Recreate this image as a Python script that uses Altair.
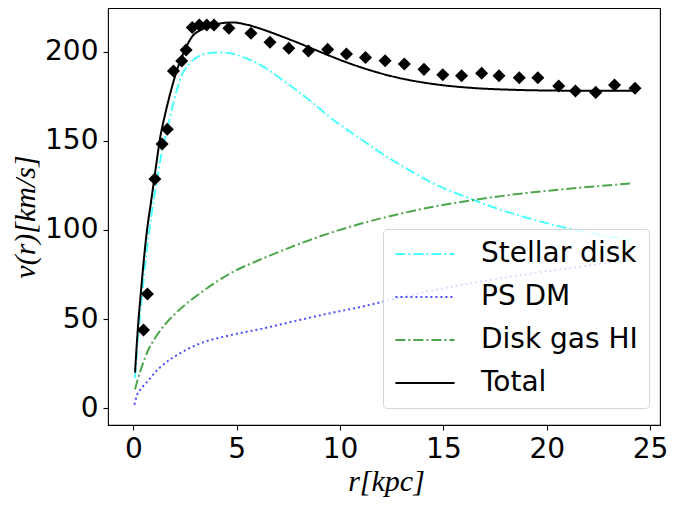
import altair as alt
import pandas as pd

# Observed rotation curve (black diamonds)
obs_r = [0.49, 0.68, 1.04, 1.39, 1.64, 1.94, 2.34, 2.55, 2.85, 3.19, 3.55, 3.90,
         4.62, 5.69, 6.61, 7.52, 8.47, 9.40, 10.31, 11.23, 12.18, 13.11, 14.06,
         14.97, 15.88, 16.85, 17.69, 18.67, 19.57, 20.58, 21.39, 22.37, 23.28, 24.27]
obs_v = [43.9, 64.1, 128.5, 148.2, 156.4, 189.1, 194.7, 200.8, 213.5, 214.9, 214.9, 214.9,
         213.0, 210.2, 205.2, 201.8, 200.3, 201.2, 198.6, 196.7, 194.8, 193.0, 190.0,
         187.0, 186.4, 187.8, 186.4, 185.3, 185.3, 180.7, 177.9, 177.1, 181.2, 179.4]

# Model components
stellar_r = [0.08, 0.2, 0.37, 0.64, 0.87, 1.1, 1.4, 1.67, 2.0, 2.31, 2.7, 3.11, 3.6, 4.2,
             4.8, 5.5, 6.29, 7.1, 7.88, 8.7, 9.47, 10.3, 11.07, 12.0, 13.2, 14.8, 16.47,
             17.7, 18.87, 20.0, 21.26, 22.7, 24.13]
stellar_v = [17, 36, 58, 88, 108, 125, 145, 158, 174, 185.9, 193, 197, 199, 199.5,
             198.8, 196, 191.5, 185, 178.4, 171, 163.5, 156.5, 150.4, 143, 134.5, 124.5, 116.8,
             111.5, 107.4, 103.8, 100.3, 97, 94.3]

dm_r = [0.05, 0.19, 0.35, 0.53, 0.72, 1.0, 1.5, 2.2, 3.11, 4.7, 6.29, 7.88, 9.47,
        11.07, 12.5, 14.57, 17.0, 19.5, 22.0, 24.13]
dm_v = [2, 7.8, 10.6, 13.2, 15.5, 19.5, 25.0, 30.5, 35.8, 41, 44.8, 49.1, 53.2,
        57, 61, 66.3, 71.5, 76, 80, 83.5]

gas_r = [0.08, 0.2, 0.4, 0.72, 1.0, 1.51, 2.2, 3.11, 4.7, 6.29, 7.88, 9.47, 11.07,
         12.66, 14.5, 16.48, 18.5, 20.46, 22.3, 24.13]
gas_v = [10.6, 15.9, 23, 32.7, 38.5, 46.7, 55, 63.5, 75.7, 84.1, 91.5, 98.1, 103.7,
         108.4, 113, 116.8, 120, 122.4, 124.4, 126.1]

total_r = [0.08, 0.2, 0.37, 0.64, 0.87, 1.11, 1.3, 1.5, 1.75, 2.15, 2.5, 2.79, 3.43,
           4.0, 4.8, 5.5, 6.3, 7.1, 7.9, 8.7, 9.5, 10.3, 11.1, 12.7, 14.5, 16.4,
           18.5, 20.5, 22.5, 24.13]
total_v = [20, 42, 66, 98, 117, 137, 152, 163, 175, 191, 201, 207.5, 213.0,
           215.3, 216.3, 215.0, 212.2, 208.8, 205.2, 201.4, 197.6, 194.0, 190.8, 185.6, 181.8, 179.6,
           178.5, 178.1, 178, 178]

series_names = ["Stellar disk", "PS DM", "Disk gas HI", "Total"]
series_colors = ["#4dffff", "#4d4dff", "#4da64d", "#000000"]
series_dashes = [[10, 3, 2, 3], [2, 3], [10, 3, 2, 3], [1, 0]]

x_ticks = [0, 5, 10, 15, 20, 25]
y_ticks = [0, 50, 100, 150, 200]

rows = []
for name, rs, vs in [("Stellar disk", stellar_r, stellar_v),
                     ("PS DM", dm_r, dm_v),
                     ("Disk gas HI", gas_r, gas_v),
                     ("Total", total_r, total_v)]:
    for r, v in zip(rs, vs):
        rows.append({"r": r, "v": v, "series": name})
curves = pd.DataFrame(rows)
points = pd.DataFrame({"r": obs_r, "v": obs_v})

x_scale = alt.Scale(domain=[-1.228, 25.48], nice=False, zero=False)
y_scale = alt.Scale(domain=[-9.36, 224.4], nice=False, zero=False)

x_axis = alt.Axis(values=x_ticks, format="d", title="r[kpc]", grid=False, domain=False,
                  tickSize=5, labelPadding=5, titleX=278, titleY=65,
                  titleBaseline="alphabetic", titleAlign="center", titleAngle=0)
y_axis = alt.Axis(values=y_ticks, format="d", title="v(r)[km/s]", grid=False, domain=False,
                  tickSize=5, labelPadding=5, titleX=-83, titleY=208.5,
                  titleAngle=270, titleBaseline="middle", titleAlign="center")

legend = alt.Legend(title=None, orient="none", legendX=275, legendY=221, padding=11,
                    rowPadding=15, labelFontSize=28, labelFont="DejaVu Sans",
                    labelColor="black", symbolType="stroke", symbolSize=3500,
                    symbolStrokeWidth=2, labelOffset=25, strokeColor="#d6d6d6",
                    fillColor="rgba(255,255,255,0.8)", cornerRadius=4, clipHeight=28,
                    labelLimit=400)

lines = alt.Chart(curves).mark_line(strokeWidth=2, interpolate="monotone").encode(
    x=alt.X("r:Q", scale=x_scale, axis=x_axis),
    y=alt.Y("v:Q", scale=y_scale, axis=y_axis),
    color=alt.Color("series:N", scale=alt.Scale(domain=series_names, range=series_colors),
                    legend=legend),
    strokeDash=alt.StrokeDash("series:N",
                              scale=alt.Scale(domain=series_names, range=series_dashes),
                              legend=legend),
)

pts = alt.Chart(points).mark_point(shape="diamond", filled=True, size=170,
                                   color="black", opacity=1).encode(
    x=alt.X("r:Q", scale=x_scale),
    y=alt.Y("v:Q", scale=y_scale),
)

chart = alt.layer(lines, pts).properties(
    width=552, height=417,
    autosize=alt.AutoSizeParams(type="none"),
    padding={"left": 100, "top": 0, "right": 9, "bottom": 73},
).configure_view(stroke="black", strokeWidth=1.1).configure_axis(
    labelFont="DejaVu Sans", labelFontSize=28, labelColor="black",
    tickColor="black", tickWidth=1.1,
    titleFont="Liberation Serif", titleFontSize=30, titleFontStyle="italic",
    titleFontWeight="normal", titleColor="black",
)

chart.save("out.html", embed_options={"renderer": "svg", "actions": False})
